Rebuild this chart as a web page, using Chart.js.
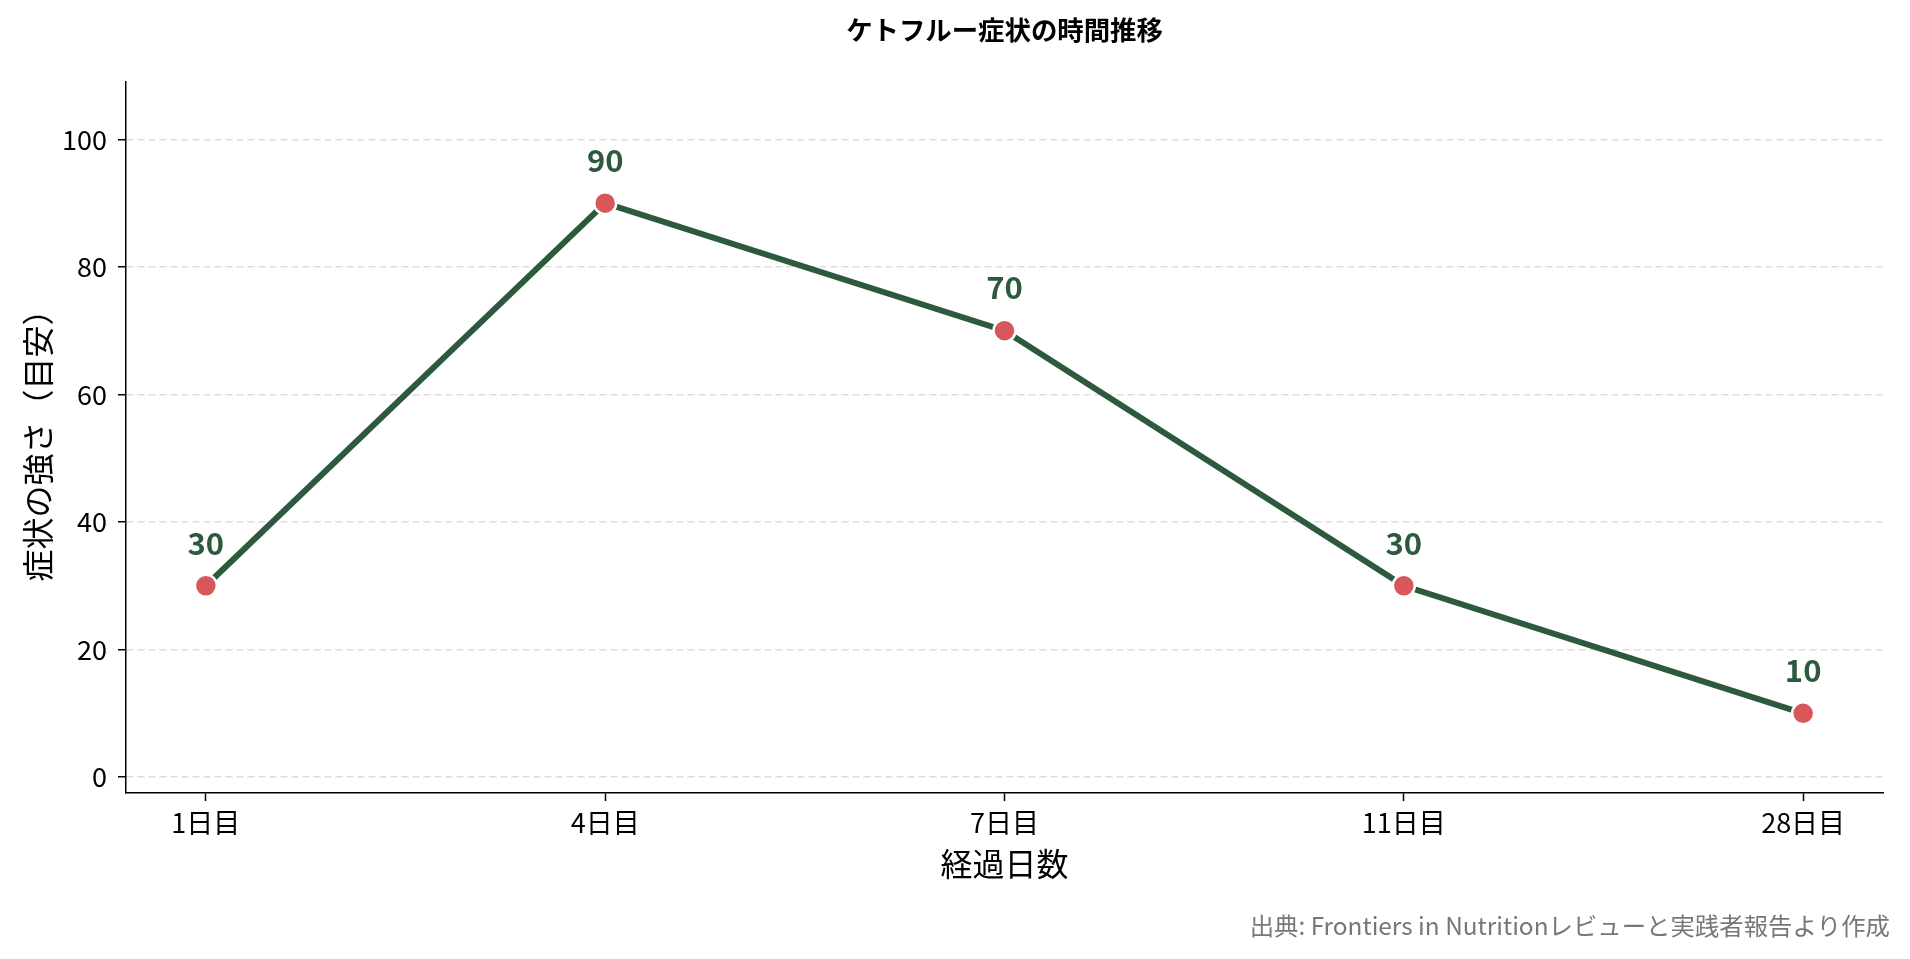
<!DOCTYPE html>
<html>
<head>
<meta charset="utf-8">
<script src="https://cdn.jsdelivr.net/npm/chart.js@4/dist/chart.umd.min.js"></script>
<style>
html,body{margin:0;padding:0;background:#fff;}
#wrap{width:1910px;height:959px;position:relative;}
</style>
</head>
<body>
<div id="wrap"><canvas id="c"></canvas></div>
<script>
const categories = ['1日目', '4日目', '7日目', '11日目', '28日目'];
const severity = [30, 90, 70, 30, 10];
const yTicks = [0, 20, 40, 60, 80, 100];
const chartTitle = 'ケトフルー症状の時間推移';
const xTitle = '経過日数';
const yTitle = '症状の強さ（目安）';
const sourceNote = '出典: Frontiers in Nutritionレビューと実践者報告より作成';

const FONT = '"Noto Sans CJK JP", "Noto Sans", sans-serif';
const lineColor = '#2d5a3d';
const pointColor = '#d9575a';

const points = categories.map((c, i) => ({x: i, y: severity[i]}));

const extras = {
  id: 'extras',
  afterDatasetsDraw(chart) {
    const ctx = chart.ctx;
    const meta = chart.getDatasetMeta(0);
    ctx.save();
    ctx.font = 'bold 31px ' + FONT;
    ctx.fillStyle = lineColor;
    ctx.textAlign = 'center';
    ctx.textBaseline = 'middle';
    meta.data.forEach((el, i) => {
      ctx.fillText(String(severity[i]), el.x, el.y - 43);
    });
    ctx.restore();
  },
  afterDraw(chart) {
    const ctx = chart.ctx;
    const ca = chart.chartArea;
    ctx.save();
    ctx.font = 'bold 26.4px ' + FONT;
    ctx.fillStyle = '#000';
    ctx.textAlign = 'center';
    ctx.textBaseline = 'middle';
    ctx.fillText(chartTitle, (ca.left + ca.right) / 2, 29.5);
    ctx.font = '24.4px ' + FONT;
    ctx.fillStyle = '#777777';
    ctx.textAlign = 'right';
    ctx.fillText(sourceNote, 1890, 926);
    ctx.restore();
  }
};

new Chart(document.getElementById('c'), {
  type: 'line',
  data: {
    datasets: [{
      data: points,
      borderColor: lineColor,
      borderWidth: 6,
      tension: 0,
      pointRadius: 11,
      pointHoverRadius: 11,
      pointBackgroundColor: pointColor,
      pointBorderColor: '#ffffff',
      pointBorderWidth: 2.5,
      fill: false
    }]
  },
  options: {
    responsive: true,
    maintainAspectRatio: false,
    animation: false,
    events: [],
    layout: {padding: {top: 82, right: 27, left: 0, bottom: 0}},
    plugins: {legend: {display: false}, tooltip: {enabled: false}, title: {display: false}},
    scales: {
      x: {
        type: 'linear',
        min: -0.2,
        max: 4.2,
        afterFit(s) { s.height = 166; },
        afterBuildTicks(s) { s.ticks = categories.map((c, i) => ({value: i})); },
        ticks: {
          includeBounds: false,
          stepSize: 1,
          autoSkip: false,
          maxRotation: 0,
          padding: 6,
          color: '#000',
          font: {family: FONT, size: 27},
          callback: (v) => categories[v] !== undefined ? categories[v] : ''
        },
        grid: {drawOnChartArea: false, drawTicks: true, tickLength: 8, tickWidth: 1.5, tickColor: '#000', color: '#000'},
        border: {display: true, color: '#000', width: 1.5},
        title: {display: true, text: xTitle, color: '#000', font: {family: FONT, size: 32}, padding: {top: 0, bottom: 76}}
      },
      y: {
        type: 'linear',
        min: -2.5,
        max: 109,
        afterFit(s) { s.width = 126; },
        afterBuildTicks(s) { s.ticks = yTicks.map(v => ({value: v})); },
        ticks: {
          includeBounds: false,
          stepSize: 20,
          padding: 11,
          color: '#000',
          font: {family: FONT, size: 27}
        },
        grid: {drawOnChartArea: true, drawTicks: true, tickLength: 8, tickWidth: 1.5, tickColor: '#000', color: '#dddddd', lineWidth: 1.5},
        border: {display: true, color: '#000', width: 1.5, dash: [7, 4]},
        title: {display: true, text: yTitle, color: '#000', font: {family: FONT, size: 32}, padding: {top: 19, bottom: 0}}
      }
    }
  },
  plugins: [extras]
});
</script>
</body>
</html>
